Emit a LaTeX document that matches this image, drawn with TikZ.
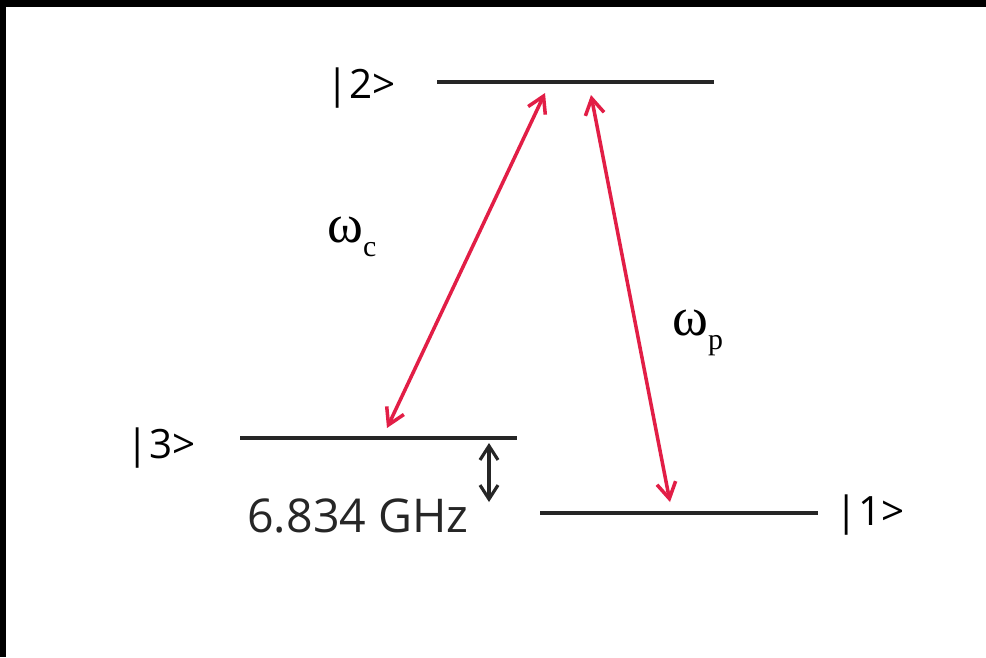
\documentclass[tikz,border=0pt]{standalone}
\usepackage{fontspec}
\setmainfont{Open Sans}
\newfontfamily\greekfont{Liberation Serif}
\usetikzlibrary{arrows.meta}
\definecolor{laserred}{RGB}{226,30,70}

\tikzset{
  level/.style={line width=2.4pt, black!85},
  transition/.style={<->, line width=2pt, laserred},
  ket/.style={font=\fontsize{23}{27}\selectfont, anchor=base},
  freq/.style={font=\greekfont\fontsize{31}{34}\selectfont, anchor=base west, inner sep=0pt},
}
\newcommand{\omsub}[1]{ω\raisebox{-0.28cm}{\fontsize{17}{20}\selectfont #1}}

\begin{document}
\begin{tikzpicture}[x=0.02cm, y=-0.02cm, >={Straight Barb[length=3.2mm, width=3.8mm]}]
  \fill[black] (0,0) rectangle (986,657);
  \fill[white] (6,7) rectangle (986,657);
  % energy levels
  \draw[level] (437,82) coordinate (lvltwoW) -- (714,82) coordinate (lvltwoE);
  \draw[level] (240,438) coordinate (lvlthreeW) -- (517,438) coordinate (lvlthreeE);
  \draw[level] (540,513) coordinate (lvloneW) -- (818,513) coordinate (lvloneE);
  \node[ket] (kettwo) at (361,98) {|2>};
  \node[ket] (ketthree) at (161,458) {|3>};
  \node[ket] (ketone) at (870,525) {|1>};
  % laser couplings
  \coordinate (ctop) at (545,93);
  \coordinate (cbot) at (387,428);
  \coordinate (ptop) at (591,95);
  \coordinate (pbot) at (670,502);
  \draw[transition] (ctop) -- (cbot);
  \draw[transition] (ptop) -- (pbot);
  \node[freq] (omc) at (327,242) {\omsub{c}};
  \node[freq] (omp) at (672,335) {\omsub{p}};
  % hyperfine splitting
  \coordinate (hfsTop) at (489,443);
  \coordinate (hfsBot) at (489,502);
  \draw[<->, line width=1.8pt, black!85, >={Straight Barb[length=2.8mm, width=3.6mm]}] (hfsTop) -- (hfsBot);
  \node[anchor=base west, inner sep=0pt, font=\fontsize{26.5}{30}\selectfont, black!85] (split) at (247,532) {6.834 GHz};
\end{tikzpicture}
\end{document}
